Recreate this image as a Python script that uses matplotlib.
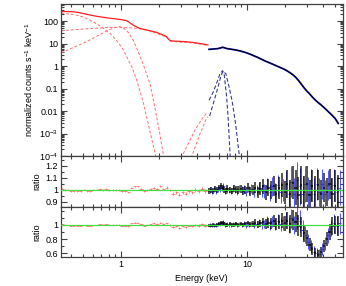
import matplotlib
matplotlib.use("Agg")
import matplotlib.pyplot as plt
from matplotlib.ticker import FixedLocator, FixedFormatter, NullFormatter

plt.rcParams['font.family'] = ['Liberation Sans', 'DejaVu Sans']
plt.rcParams['font.size'] = 6.5
plt.rcParams['mathtext.fontset'] = 'custom'
plt.rcParams['mathtext.rm'] = 'Liberation Sans'
plt.rcParams['mathtext.it'] = 'Liberation Sans:italic'

# --- soft X-ray spectrum (red) ---
soft_e = [0.335, 0.37, 0.417, 0.46, 0.5, 0.567, 0.63, 0.7, 0.8, 0.92, 1.0, 1.11, 1.16, 1.21,
          1.3, 1.41, 1.6, 1.8, 1.92, 2.04, 2.2, 2.3, 2.38, 2.45, 2.6, 2.9, 3.3, 3.7, 4.0, 4.5, 4.9]
soft_flux = [265, 262, 259, 240, 215, 185, 165, 150, 135, 123, 116, 103, 88, 74,
             58, 47, 40, 34, 31, 27, 23, 20, 16, 13.5, 12.8, 12.5, 12, 11.2, 10.5, 9.5, 8.6]

# model components of the soft spectrum (dashed red)
bb1_e = [0.335, 0.4, 0.45, 0.52, 0.6, 0.7, 0.82, 0.92, 1.02, 1.11, 1.22, 1.33, 1.5, 1.7, 1.86, 1.95]
bb1_v = [225, 200, 180, 140, 93, 55, 28, 14, 6.5, 2.6, 0.9, 0.24, 0.025, 0.0012, 0.00014, 0.00004]
bb2_e = [0.335, 0.4, 0.5, 0.6, 0.68, 0.8, 0.9, 0.98, 1.05, 1.15, 1.25, 1.4, 1.55, 1.7, 1.85, 2.0, 2.16, 2.25]
bb2_v = [3.8, 6.0, 10.2, 17, 25, 40, 52, 56, 48, 30, 14, 3.2, 0.72, 0.16, 0.016, 0.0016, 0.00013, 0.00003]
pl_e = [0.335, 0.45, 0.6, 0.8, 1.0, 1.2, 1.41, 1.7, 2.04, 2.3, 2.45, 2.9, 3.3, 4.0, 4.9]
pl_v = [37, 42, 47, 52, 52, 50, 45, 36, 25, 19, 12.8, 11.5, 11.3, 10, 8.2]
gl1_e = [3.0, 3.32, 3.86, 4.5, 4.9]
gl1_v = [8e-5, 2.6e-4, 1.4e-3, 5.5e-3, 9e-3]
gl2_e = [3.6, 4.24, 4.73, 4.9]
gl2_v = [8e-5, 1.0e-3, 4.2e-3, 5.5e-3]

# --- hard X-ray spectrum (FPMA black / FPMB blue) ---
hard_e = [5.0, 5.2, 5.4, 5.6, 5.8, 6.0, 6.2, 6.4,
          6.6, 6.8, 7.0, 7.3, 7.6, 7.9, 8.2,
          8.5, 8.9, 9.3, 9.7, 10.1,
          10.6, 11.1, 11.6, 12.2, 12.8, 13.4, 14.1,
          14.8, 15.5, 16.3, 17.1, 18.0, 18.9, 19.9,
          20.9, 22.0, 23.1, 24.3, 25.6, 26.9,
          28.3, 29.8, 31.4, 33.0, 34.8, 36.6, 38.6, 40.7, 42.9, 45.2, 47.7, 50.3, 53.0]
hard_e2 = [5.1, 5.3, 5.5, 5.7, 5.9, 6.1, 6.3, 6.5,
           6.7, 6.9, 7.15, 7.45, 7.75, 8.05, 8.35,
           8.7, 9.1, 9.5, 9.9, 10.35,
           10.85, 11.35, 11.9, 12.5, 13.1, 13.75, 14.45,
           15.15, 15.9, 16.7, 17.55, 18.45, 19.4, 20.4,
           21.45, 22.55, 23.7, 24.95, 26.25, 27.6,
           29.05, 30.6, 32.2, 33.9, 35.7, 37.6, 39.65, 41.8, 44.05, 46.45, 49.0, 51.65, 54.3]
hard_flux = [5.5, 5.6, 5.7, 5.8, 5.9, 6.1, 6.4, 6.8,
             6.5, 6.1, 5.9, 5.7, 5.5, 5.3, 5.1,
             4.9, 4.6, 4.3, 4.0, 3.7,
             3.35, 3.0, 2.7, 2.4, 2.1, 1.85, 1.62,
             1.45, 1.3, 1.15, 1.02, 0.9, 0.8, 0.7,
             0.6, 0.5, 0.41, 0.32, 0.23, 0.16,
             0.11, 0.078, 0.058, 0.042, 0.031, 0.024, 0.019, 0.0145, 0.011, 0.0083, 0.0062, 0.0045, 0.0028]
hard_err = [0.025, 0.025, 0.025, 0.025, 0.025, 0.025, 0.025, 0.025,
            0.026, 0.026, 0.027, 0.027, 0.028, 0.028, 0.029,
            0.03, 0.031, 0.032, 0.033, 0.035,
            0.037, 0.04, 0.044, 0.048, 0.053, 0.058, 0.064,
            0.07, 0.075, 0.08, 0.085, 0.09, 0.095, 0.1,
            0.11, 0.12, 0.13, 0.14, 0.15, 0.15,
            0.14, 0.14, 0.13, 0.13, 0.13, 0.12, 0.12, 0.12, 0.12, 0.12, 0.13, 0.13, 0.14]

# Fe line components (dashed blue)
fe1_e = [5.0, 5.4, 5.8, 6.1, 6.4, 6.6, 6.9, 7.1, 7.35]
fe1_v = [0.03, 0.07, 0.2, 0.45, 0.62, 0.4, 0.04, 0.004, 1e-4]
fe2_e = [5.05, 5.5, 5.9, 6.2, 6.45, 6.8, 7.2, 7.6, 8.1, 8.7]
fe2_v = [0.006, 0.03, 0.12, 0.35, 0.59, 0.45, 0.12, 0.03, 0.003, 1e-4]

# --- ratios, best fit (middle panel) ---
ratio_a = [0.99, 1.0, 0.99, 1.01, 1.0, 1.02, 1.03, 1.02,
           1.0, 0.99, 1.01, 1.0, 0.99, 1.01, 1.0,
           1.0, 1.01, 0.99, 1.0, 1.02,
           0.99, 1.0, 1.02, 0.98, 1.01, 1.03, 0.98,
           1.02, 1.0, 1.03, 0.97, 1.02, 1.04, 0.98,
           1.05, 0.97, 1.06, 1.02, 0.96, 1.04,
           0.98, 1.05, 0.96, 1.03, 0.99, 1.04, 0.97, 1.02, 0.98, 1.05, 0.97, 1.03, 0.99]
ratio_b = [1.0, 0.99, 1.01, 0.99, 1.01, 1.01, 1.02, 1.03,
           0.99, 1.0, 1.0, 0.99, 1.01, 1.0, 0.99,
           1.01, 1.0, 1.01, 0.98, 1.0,
           1.01, 0.98, 1.0, 1.02, 0.99, 0.99, 1.03,
           0.98, 1.03, 0.98, 1.04, 0.98, 1.0, 1.05,
           0.97, 1.07, 0.97, 1.08, 1.03, 0.97,
           1.05, 0.97, 1.04, 0.97, 1.05, 0.98, 1.05, 0.97, 1.04, 0.98, 1.04, 0.98, 1.02]
# --- ratios, fit without the absorption feature (bottom panel) ---
ratio2_a = [0.99, 0.99, 1.0, 0.99, 1.0, 1.01, 1.03, 1.03,
            1.01, 1.0, 1.0, 1.01, 1.0, 1.0, 1.01,
            1.0, 1.01, 1.0, 1.01, 1.02,
            1.0, 1.01, 1.03, 1.0, 1.02, 1.04, 1.01,
            1.03, 1.02, 1.05, 1.01, 1.04, 1.06, 1.02,
            1.06, 1.01, 1.07, 1.04, 0.99, 0.97,
            0.88, 0.81, 0.72, 0.66, 0.6, 0.58, 0.62, 0.7, 0.8, 0.9, 0.98, 1.0, 0.98]
ratio2_b = [1.0, 0.99, 1.0, 1.0, 1.01, 1.01, 1.02, 1.04,
            1.0, 1.01, 1.0, 1.0, 1.01, 1.01, 1.0,
            1.01, 1.0, 1.02, 0.99, 1.01,
            1.02, 0.99, 1.01, 1.03, 1.0, 1.01, 1.05,
            1.0, 1.05, 1.01, 1.06, 1.01, 1.03, 1.07,
            1.0, 1.09, 1.0, 1.1, 1.05, 0.93,
            0.86, 0.76, 0.69, 0.62, 0.6, 0.59, 0.66, 0.74, 0.85, 0.95, 1.02, 0.99, 1.02]

soft_re = [0.34, 0.36, 0.38, 0.40, 0.42, 0.45, 0.48, 0.51, 0.54, 0.57, 0.60, 0.64, 0.68, 0.72,
           0.76, 0.81, 0.86, 0.91, 0.96, 1.02, 1.08, 1.14, 1.21, 1.28, 1.36, 1.44, 1.53, 1.62,
           1.72, 1.82, 1.93, 2.05, 2.17, 2.30, 2.44, 2.59, 2.75, 2.91, 3.09, 3.27, 3.47, 3.68,
           3.90, 4.14, 4.39, 4.65, 4.90]
soft_ratio = [1.01, 1.0, 1.0, 0.99, 0.99, 0.99, 0.99, 1.0, 0.99, 0.99, 1.0, 1.0, 1.01, 1.0,
              1.01, 1.0, 1.0, 1.0, 1.0, 0.99, 0.99, 0.98, 1.02, 1.03, 1.03, 1.01, 0.99, 1.0,
              1.01, 1.02, 1.01, 1.03, 1.01, 1.02, 1.0, 0.97, 0.98, 0.96, 0.98, 0.97, 0.99, 0.98,
              1.0, 0.99, 1.01, 0.99, 1.0]
soft_rerr = [0.004, 0.004, 0.004, 0.004, 0.004, 0.004, 0.004, 0.004, 0.004, 0.004, 0.004, 0.004, 0.005, 0.005,
             0.005, 0.005, 0.005, 0.005, 0.005, 0.006, 0.006, 0.006, 0.006, 0.007, 0.007, 0.007, 0.008, 0.008,
             0.008, 0.008, 0.009, 0.009, 0.01, 0.01, 0.01, 0.011, 0.011, 0.012, 0.012, 0.013, 0.013, 0.014,
             0.014, 0.015, 0.015, 0.016, 0.016]

x_ticks = [1, 10]
x_labels = ['1', '10']
y_ticks = [1e-4, 1e-3, 0.01, 0.1, 1, 10, 100]
y_labels = [r'$10^{-4}$', r'$10^{-3}$', '0.01', '0.1', '1', '10', '100']

RED = '#ff2020'
LRED = '#ff7070'
NAVY = '#3a3a8c'
GREEN = '#40e040'
FRAME = '#404040'

fig = plt.figure(figsize=(3.46, 2.86), dpi=100)
ax1 = fig.add_axes([0.1763, 0.4545, 0.8136, 0.5315])
ax2 = fig.add_axes([0.1763, 0.2762, 0.8136, 0.1783])
ax3 = fig.add_axes([0.1763, 0.1014, 0.8136, 0.1748])

# spectrum panel
for e, v in [(bb1_e, bb1_v), (bb2_e, bb2_v), (pl_e, pl_v), (gl1_e, gl1_v), (gl2_e, gl2_v)]:
    ax1.plot(e, v, color=LRED, lw=0.7, dashes=(3, 2))
ax1.plot(fe1_e, fe1_v, color=NAVY, lw=0.8, dashes=(3.5, 2))
ax1.plot(fe2_e, fe2_v, color=NAVY, lw=0.8, dashes=(3.5, 2))
ax1.plot(soft_e, soft_flux, color=RED, lw=0.9)
ax1.plot(hard_e, hard_flux, color='#2020ff', lw=1.3)
ax1.plot(hard_e, hard_flux, color='black', lw=0.8)
ax1.set_yscale('log')
ax1.set_ylim(1e-4, 570)
ax1.yaxis.set_major_locator(FixedLocator(y_ticks))
ax1.yaxis.set_major_formatter(FixedFormatter(y_labels))
ax1.set_ylabel(r'normalized counts s$^{-1}$ keV$^{-1}$', labelpad=3)

# ratio panels
hard_xerr = [0.02 * e for e in hard_e]
hard_xerr2 = [0.02 * e for e in hard_e2]
soft_xerr = [0.03 * e for e in soft_re]
for ax, ra, rb in [(ax2, ratio_a, ratio_b), (ax3, ratio2_a, ratio2_b)]:
    ax.errorbar(soft_re, soft_ratio, yerr=soft_rerr, xerr=soft_xerr, fmt='none',
                ecolor=LRED, elinewidth=0.6)
    ax.errorbar(hard_e2, rb, yerr=[e * r for e, r in zip(hard_err, rb)], xerr=hard_xerr2,
                fmt='none', ecolor='#2828ff', elinewidth=0.7, alpha=0.8)
    ax.errorbar(hard_e, ra, yerr=[e * r for e, r in zip(hard_err, ra)], xerr=hard_xerr,
                fmt='none', ecolor='black', elinewidth=1.1, alpha=0.85)
    ax.axhline(1.0, color=GREEN, lw=0.9, zorder=5)
    ax.set_ylabel('ratio', labelpad=3)

ax2.set_ylim(0.858, 1.283)
ax2.yaxis.set_major_locator(FixedLocator([0.9, 1.0, 1.1, 1.2]))
ax2.yaxis.set_major_formatter(FixedFormatter(['0.9', '1', '1.1', '1.2']))
ax2.yaxis.set_minor_locator(FixedLocator([0.95, 1.05, 1.15, 1.25]))
ax3.set_ylim(0.548, 1.25)
ax3.yaxis.set_major_locator(FixedLocator([0.6, 0.8, 1.0]))
ax3.yaxis.set_major_formatter(FixedFormatter(['0.6', '0.8', '1']))
ax3.yaxis.set_minor_locator(FixedLocator([0.7, 0.9, 1.1, 1.2]))

for ax in (ax1, ax2, ax3):
    ax.set_xscale('log')
    ax.set_xlim(0.334, 57.3)
    ax.xaxis.set_major_locator(FixedLocator(x_ticks))
    ax.xaxis.set_minor_locator(FixedLocator([0.4, 0.5, 0.6, 0.7, 0.8, 0.9, 2, 3, 4, 5, 6, 7, 8, 9,
                                             20, 30, 40, 50]))
    ax.xaxis.set_minor_formatter(NullFormatter())
    ax.tick_params(which='both', direction='in', top=True, right=True, colors=FRAME,
                   labelcolor='black', width=0.8, pad=2)
    ax.tick_params(which='major', length=4)
    ax.tick_params(which='minor', length=2)
    for s in ax.spines.values():
        s.set_color(FRAME)
        s.set_linewidth(0.9)

ax1.xaxis.set_major_formatter(NullFormatter())
ax2.xaxis.set_major_formatter(NullFormatter())
ax3.xaxis.set_major_formatter(FixedFormatter(x_labels))
ax3.set_xlabel('Energy (keV)', labelpad=4)

fig.align_ylabels([ax1, ax2, ax3])
fig.savefig('out.png', dpi=100)
